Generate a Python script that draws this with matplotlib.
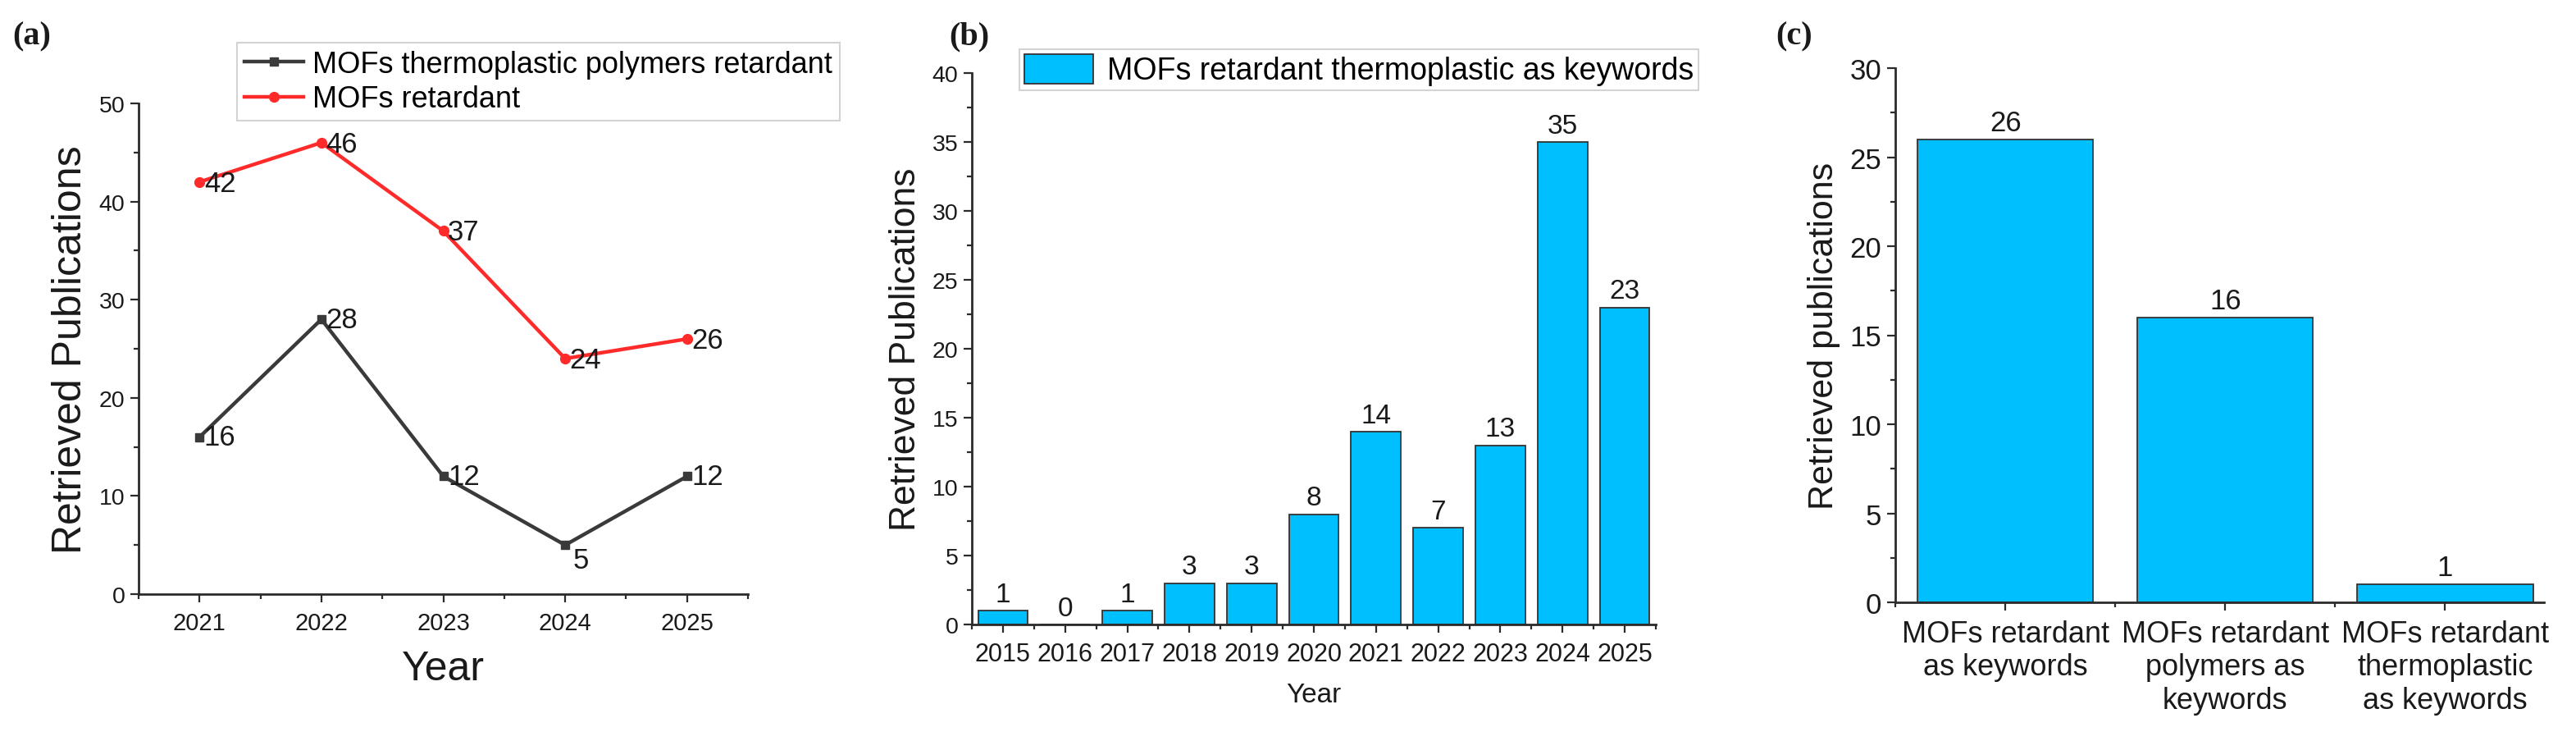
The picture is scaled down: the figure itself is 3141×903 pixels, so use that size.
import matplotlib

matplotlib.use("Agg")
import matplotlib.pyplot as plt
from matplotlib.ticker import MultipleLocator

plt.rcParams["font.family"] = ["Liberation Sans", "DejaVu Sans"]

# panel (a): publications per year, two search strings
years_a = [2021, 2022, 2023, 2024, 2025]
thermo_polymers = [16, 28, 12, 5, 12]
retardant = [42, 46, 37, 24, 26]
label_thermo = "MOFs thermoplastic polymers retardant"
label_retardant = "MOFs retardant"

# panel (b): thermoplastic keyword search per year
years_b = [2015, 2016, 2017, 2018, 2019, 2020, 2021, 2022, 2023, 2024, 2025]
thermo_keywords = [1, 0, 1, 3, 3, 8, 14, 7, 13, 35, 23]
label_b = "MOFs retardant thermoplastic as keywords"

# panel (c): totals per keyword set
categories_c = [
    "MOFs retardant\nas keywords",
    "MOFs retardant\npolymers as\nkeywords",
    "MOFs retardant\nthermoplastic\nas keywords",
]
counts_c = [26, 16, 1]

AX = "#2b2b2b"
TXT = "#1a1a1a"
BLUE = "#00bfff"
DARK = "#3a3a3a"
RED = "#ff2b2b"

W, H = 3141, 904


def px_axes(fig, left, top, right, bottom):
    return fig.add_axes([left / W, 1 - bottom / H, (right - left) / W, (bottom - top) / H])


def style_axes(ax, xsize, ysize):
    for s in ("top", "right"):
        ax.spines[s].set_visible(False)
    for s in ("left", "bottom"):
        ax.spines[s].set_linewidth(2.0)
        ax.spines[s].set_color(AX)
    ax.tick_params(which="major", length=7, width=1.6, color=AX, labelcolor=TXT)
    ax.tick_params(which="minor", length=4, width=1.6, color=AX)
    ax.tick_params(axis="x", labelsize=xsize, pad=8)
    ax.tick_params(axis="y", labelsize=ysize, pad=5)


def panel_tag(fig, x, y, s):
    fig.text(x / W, 1 - y / H, s, fontsize=29, fontweight="bold",
             family="Liberation Serif", color=TXT, ha="left", va="center")


fig = plt.figure(figsize=(W / 100, H / 100), dpi=100)

# ---------------- (a) ----------------
ax = px_axes(fig, 169, 127, 912, 725)
ax.plot(years_a, thermo_polymers, color=DARK, lw=3.2, marker="s", ms=7, label=label_thermo)
ax.plot(years_a, retardant, color=RED, lw=3.2, marker="o", ms=8.5, label=label_retardant)
for x, v in zip(years_a, thermo_polymers):
    dy = -13 if v == min(thermo_polymers) else 0
    dx = 7 if dy else 4
    ax.annotate(str(v), (x, v), xytext=(dx, dy), textcoords="offset points",
                ha="left", va="center", fontsize=25, color=TXT)
for x, v in zip(years_a, retardant):
    ax.annotate(str(v), (x, v), xytext=(4, -1), textcoords="offset points",
                ha="left", va="center", fontsize=25, color=TXT)
ax.set_xlim(2020.5, 2025.5)
ax.set_ylim(0, 50)
ax.set_xticks(years_a)
ax.xaxis.set_minor_locator(MultipleLocator(0.5))
ax.yaxis.set_major_locator(MultipleLocator(10))
ax.yaxis.set_minor_locator(MultipleLocator(5))
style_axes(ax, 21, 20.5)
ax.set_xlabel("Year", fontsize=36, color=TXT, labelpad=14)
ax.set_ylabel("Retrieved Publications", fontsize=36, color=TXT, labelpad=8)
leg = ax.legend(loc="upper left", bbox_to_anchor=(289 / W, 1 - 53 / H),
                bbox_transform=fig.transFigure, fontsize=26, frameon=True,
                fancybox=False, borderaxespad=0, handlelength=2.0,
                labelspacing=0.2, borderpad=0.25, handletextpad=0.3)
leg.get_frame().set_edgecolor("#c8c8c8")
leg.get_frame().set_linewidth(1.5)
panel_tag(fig, 15, 45, "(a)")

# ---------------- (b) ----------------
ax = px_axes(fig, 1185, 90, 2019, 762)
ax.bar(years_b, thermo_keywords, width=0.8, color=BLUE, edgecolor="#333333",
       linewidth=1.3, label=label_b)
for x, v in zip(years_b, thermo_keywords):
    ax.annotate(str(v), (x, v), xytext=(0, 3), textcoords="offset points",
                ha="center", va="bottom", fontsize=24, color=TXT)
ax.set_xlim(2014.5, 2025.5)
ax.set_ylim(0, 40)
ax.set_xticks(years_b)
ax.xaxis.set_minor_locator(MultipleLocator(0.5))
ax.yaxis.set_major_locator(MultipleLocator(5))
ax.yaxis.set_minor_locator(MultipleLocator(2.5))
style_axes(ax, 22, 20.5)
ax.set_xlabel("Year", fontsize=24, color=TXT, labelpad=14)
ax.set_ylabel("Retrieved Publications", fontsize=32, color=TXT, labelpad=8)
leg = ax.legend(loc="upper left", bbox_to_anchor=(1243 / W, 1 - 61 / H),
                bbox_transform=fig.transFigure, fontsize=27, frameon=True,
                fancybox=False, borderaxespad=0, handlelength=2.25,
                handleheight=1.1, borderpad=0.15, handletextpad=0.45)
leg.get_frame().set_edgecolor("#c8c8c8")
leg.get_frame().set_linewidth(1.5)
panel_tag(fig, 1157, 45, "(b)")

# ---------------- (c) ----------------
ax = px_axes(fig, 2311, 84, 3102, 735)
xc = list(range(len(categories_c)))
ax.bar(xc, counts_c, width=0.8, color=BLUE, edgecolor="#333333", linewidth=1.3)
for x, v in zip(xc, counts_c):
    ax.annotate(str(v), (x, v), xytext=(0, 3), textcoords="offset points",
                ha="center", va="bottom", fontsize=25, color=TXT)
ax.set_xlim(-0.5, 2.45)
ax.set_ylim(0, 30)
ax.set_xticks(xc)
ax.set_xticklabels(categories_c)
ax.xaxis.set_minor_locator(MultipleLocator(0.5))
ax.yaxis.set_major_locator(MultipleLocator(5))
ax.yaxis.set_minor_locator(MultipleLocator(2.5))
style_axes(ax, 26, 25)
ax.set_ylabel("Retrieved publications", fontsize=31, color=TXT, labelpad=8)
panel_tag(fig, 2165, 45, "(c)")

fig.savefig("out.png", dpi=100, facecolor="white")
